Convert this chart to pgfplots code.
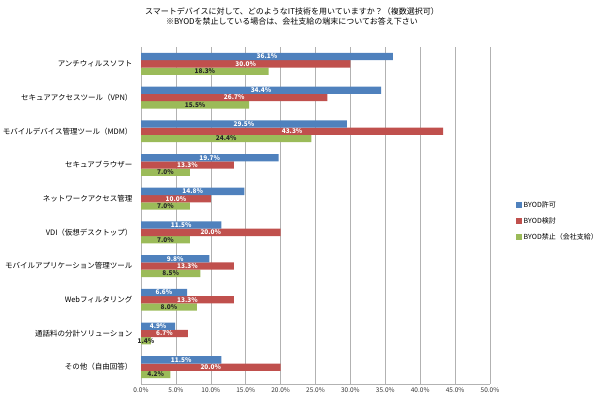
\documentclass[border=0pt]{standalone}
\usepackage{pgfplots}
\pgfplotsset{compat=1.18}
\usepackage{fontspec}
\setmainfont{Noto Sans CJK JP}
\definecolor{cblue}{HTML}{4F81BD}
\definecolor{cred}{HTML}{C0504D}
\definecolor{cgreen}{HTML}{9BBB59}
\begin{document}
\begin{tikzpicture}
\useasboundingbox (0,0) rectangle (600bp,403bp);
\node[font=\fontsize{8bp}{10bp}\selectfont, align=center] at (292bp,386.5bp)
  {スマートデバイスに対して、どのようなIT技術を用いていますか？（複数選択可）\\
   ※BYODを禁止している場合は、会社支給の端末についてお答え下さい};
\begin{axis}[
    at={(141bp,19bp)}, anchor=south west,
    scale only axis,
    width=349bp, height=337bp,
    xbar=0pt,
    bar width=7.3bp,
    xmin=0, xmax=50,
    ymin=-0.5, ymax=9.5,
    xtick={0,5,...,50},
    xticklabel={\pgfmathprintnumber[fixed,fixed zerofill,precision=1]{\tick}\%},
    /pgf/number format/assume math mode=true,
    ytick={0,...,9},
    yticklabels={その他（自由回答）,通話料の分計ソリューション,Webフィルタリング,
      モバイルアプリケーション管理ツール,VDI（仮想デスクトップ）,ネットワークアクセス管理,
      セキュアブラウザー,モバイルデバイス管理ツール（MDM）,セキュアアクセスツール（VPN）,
      アンチウィルスソフト},
    major tick length=0pt,
    xticklabel style={font=\fontsize{6.5bp}{8bp}\selectfont, color=black!80},
    yticklabel style={font=\fontsize{7.5bp}{9bp}\selectfont, xshift=-5bp},
    xmajorgrids=true,
    grid style={gray!60, line width=0.6pt},
    axis x line*=bottom,
    axis y line*=left,
    axis line style={-, gray!60, line width=0.6pt},
    visualization depends on={rawx \as \rawx},
    nodes near coords={\pgfmathprintnumber[fixed,fixed zerofill,precision=1]{\pgfplotspointmeta}\%},
    nodes near coords style={font=\bfseries\fontsize{6.5bp}{8bp}\selectfont,
      anchor=center, inner sep=0pt, xshift={-3.49bp*\rawx}},
    reverse legend,
    legend style={draw=none, at={(1.066,0.484)}, anchor=west,
      font=\fontsize{7bp}{8bp}\selectfont, row sep=4.5bp,
      /tikz/every even column/.append style={column sep=1bp}},
    legend cell align=left,
    legend image code/.code={\fill[#1] (0bp,-2.8bp) rectangle (5.5bp,2.8bp);},
]
% BYOD禁止（会社支給）
\addplot[fill=cgreen, draw=none, nodes near coords style={text=black!85}]
  coordinates {(4.2,0) (1.4,1) (8.0,2) (8.5,3) (7.0,4) (7.0,5) (7.0,6) (24.4,7) (15.5,8) (18.3,9)};
% BYOD検討
\addplot[fill=cred, draw=none, nodes near coords style={text=white}]
  coordinates {(20.0,0) (6.7,1) (13.3,2) (13.3,3) (20.0,4) (10.0,5) (13.3,6) (43.3,7) (26.7,8) (30.0,9)};
% BYOD許可
\addplot[fill=cblue, draw=none, nodes near coords style={text=white}]
  coordinates {(11.5,0) (4.9,1) (6.6,2) (9.8,3) (11.5,4) (14.8,5) (19.7,6) (29.5,7) (34.4,8) (36.1,9)};
\legend{BYOD禁止（会社支給）, BYOD検討, BYOD許可}
\end{axis}
\end{tikzpicture}
\end{document}
